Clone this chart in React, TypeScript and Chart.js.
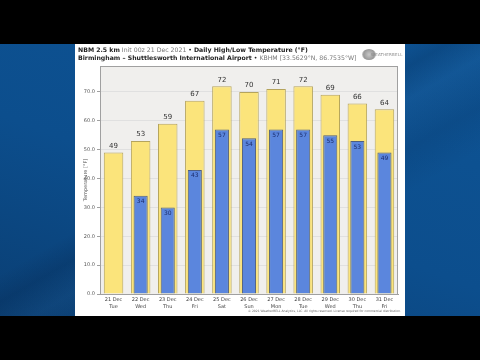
import React, { useEffect, useRef } from "react";
import { Chart, registerables } from "chart.js";

Chart.register(...registerables);

const categories = ["21 Dec", "22 Dec", "23 Dec", "24 Dec", "25 Dec", "26 Dec", "27 Dec", "28 Dec", "29 Dec", "30 Dec", "31 Dec"];
const weekdays = ["Tue", "Wed", "Thu", "Fri", "Sat", "Sun", "Mon", "Tue", "Wed", "Thu", "Fri"];
const highs = [49, 53, 59, 67, 72, 70, 71, 72, 69, 66, 64];
const lows: (number | null)[] = [null, 34, 30, 43, 57, 54, 57, 57, 55, 53, 49];
const yMax = 79;
const yStep = 10;

const FONT = "'DejaVu Sans', sans-serif";

const bgPlugin = {
  id: "plotBg",
  beforeDraw(chart: any) {
    const { ctx, chartArea: a } = chart;
    ctx.save();
    ctx.fillStyle = "#f0efed";
    ctx.fillRect(a.left, a.top, a.right - a.left, a.bottom - a.top);
    ctx.restore();
  },
  afterDraw(chart: any) {
    const { ctx, chartArea: a } = chart;
    ctx.save();
    ctx.strokeStyle = "#a0a0a0";
    ctx.lineWidth = 1;
    ctx.strokeRect(a.left + 0.5, a.top + 0.5, a.right - a.left - 1, a.bottom - a.top);
    ctx.restore();
  },
};

const labelPlugin = {
  id: "valueLabels",
  afterDatasetsDraw(chart: any) {
    const { ctx } = chart;
    ctx.save();
    ctx.textAlign = "center";
    const hi = chart.getDatasetMeta(1);
    ctx.font = `7px ${FONT}`;
    ctx.fillStyle = "#333333";
    ctx.textBaseline = "bottom";
    hi.data.forEach((bar: any, i: number) => {
      if (highs[i] == null) return;
      ctx.fillText(String(highs[i]), bar.x, bar.y - 3);
    });
    const lo = chart.getDatasetMeta(0);
    ctx.font = `6px ${FONT}`;
    ctx.fillStyle = "#1c2e6e";
    ctx.textBaseline = "top";
    lo.data.forEach((bar: any, i: number) => {
      if (lows[i] == null) return;
      ctx.fillText(String(lows[i]), bar.x, bar.y + 3);
    });
    ctx.restore();
  },
};

function TempChart() {
  const ref = useRef<HTMLCanvasElement | null>(null);
  useEffect(() => {
    if (!ref.current) return;
    const chart = new Chart(ref.current, {
      type: "bar",
      data: {
        labels: categories.map((c, i) => [c, weekdays[i]]),
        datasets: [
          {
            label: "Low",
            data: lows,
            backgroundColor: "#5b86dd",
            borderColor: "#4f5f80",
            borderWidth: 1,
            barPercentage: 0.52,
            categoryPercentage: 1,
          },
          {
            label: "High",
            data: highs,
            backgroundColor: "#fbe47b",
            borderColor: "#b5a45c",
            borderWidth: 1,
            barPercentage: 0.72,
            categoryPercentage: 1,
          },
        ],
      },
      options: {
        responsive: false,
        animation: false,
        devicePixelRatio: 1,
        layout: { padding: { top: 22, right: 7, bottom: 6, left: 8 } },
        plugins: {
          legend: { display: false },
          tooltip: { enabled: false },
          title: { display: false },
        },
        scales: {
          x: {
            stacked: true,
            grid: { display: false, drawTicks: false, tickLength: 0 },
            border: { color: "#a0a0a0" },
            ticks: {
              font: { family: FONT, size: 5, lineHeight: 1.25 },
              color: "#444444",
              maxRotation: 0,
              autoSkip: false,
              padding: 3,
            },
            afterFit: (s: any) => {
              s.height = 16;
            },
          },
          y: {
            stacked: false,
            min: 0,
            max: yMax,
            grid: { color: "#e0e0e0", tickLength: 3, tickColor: "#a0a0a0" },
            border: { color: "#a0a0a0" },
            ticks: {
              stepSize: yStep,
              font: { family: FONT, size: 5 },
              color: "#555555",
              padding: 2,
              callback: (v: any) => Number(v).toFixed(1),
            },
            afterBuildTicks: (s: any) => {
              s.ticks = s.ticks.filter((t: any) => t.value % yStep === 0);
            },
            title: {
              display: true,
              text: "Temperature [°F]",
              font: { family: FONT, size: 5 },
              color: "#555555",
              padding: 0,
            },
            afterFit: (s: any) => {
              s.width = 17;
            },
          },
        },
      },
      plugins: [bgPlugin, labelPlugin],
    } as any);
    return () => chart.destroy();
  }, []);
  return <canvas ref={ref} width={330} height={272} style={{ position: "absolute", left: 0, top: 0, width: 330, height: 272 }} />;
}

export default function App() {
  return (
    <div style={{ position: "fixed", left: 0, top: 0, width: 480, height: 360, background: "#000", overflow: "hidden", fontFamily: FONT }}>
      <div
        style={{
          position: "absolute",
          left: 0,
          top: 44,
          width: 480,
          height: 272,
          background:
            "linear-gradient(150deg, rgba(0,0,0,0) 0%, rgba(0,0,0,0) 42%, rgba(0,20,50,0.16) 47%, rgba(255,255,255,0.02) 53%, rgba(0,20,50,0.1) 62%, rgba(0,0,0,0) 70%), linear-gradient(200deg, #0e5495 0%, #0c4e8d 55%, #0a3f74 100%)",
        }}
      />
      <div style={{ position: "absolute", left: 75, top: 44, width: 330, height: 272, background: "#ffffff" }}>
        <TempChart />
        <div style={{ position: "absolute", left: 3, top: 2, fontSize: 6.2, lineHeight: "7.5px", color: "#222", whiteSpace: "nowrap" }}>
          <div>
            <b>NBM 2.5 km</b> <span style={{ color: "#777" }}>Init 00z 21 Dec 2021</span> • <b>Daily High/Low Temperature (°F)</b>
          </div>
          <div>
            <b>Birmingham – Shuttlesworth International Airport</b> • <span style={{ color: "#777" }}>KBHM [33.5629°N, 86.7535°W]</span>
          </div>
        </div>
        <div
          style={{
            position: "absolute",
            left: 287,
            top: 5,
            width: 14,
            height: 11,
            borderRadius: "50%",
            background: "radial-gradient(circle, #c8c8c8 0%, #9a9a9a 60%, rgba(160,160,160,0) 100%)",
          }}
        />
        <div style={{ position: "absolute", left: 296, top: 8, fontSize: 4, color: "#888", letterSpacing: 0.2, whiteSpace: "nowrap" }}>WEATHERBELL</div>
        <div style={{ position: "absolute", right: 4, top: 265, fontSize: 3, color: "#666", whiteSpace: "nowrap" }}>
          © 2021 WeatherBELL Analytics, LLC. All rights reserved. License required for commercial distribution.
        </div>
      </div>
    </div>
  );
}
